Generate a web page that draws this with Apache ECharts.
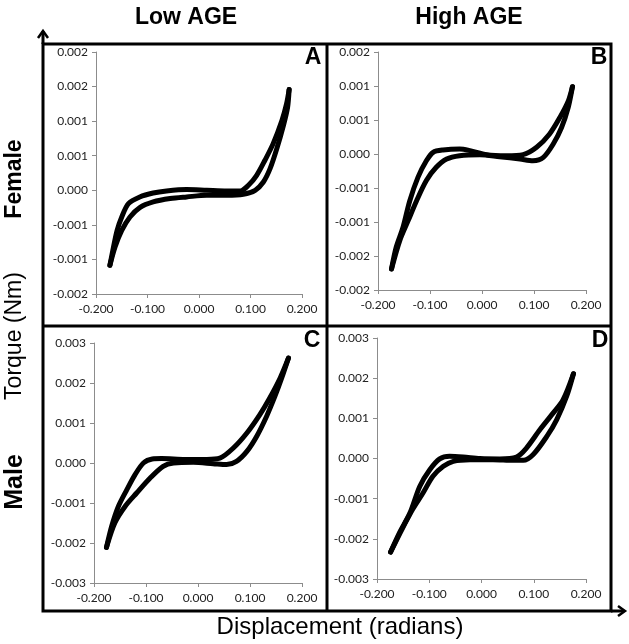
<!DOCTYPE html>
<html>
<head>
<meta charset="utf-8">
<script src="https://cdn.jsdelivr.net/npm/echarts@6/dist/echarts.min.js"></script>
<style>html,body{margin:0;padding:0;background:#fff;}#c{width:629px;height:644px;}</style>
</head>
<body>
<div id="c"></div>
<script>
// Column / row headings
const columnTitles = ["Low AGE", "High AGE"];
const rowTitles = ["Female", "Male"];
const panelLetters = ["A", "B", "C", "D"];
const yAxisTitle = "Torque (Nm)";
const xAxisTitle = "Displacement (radians)";
const xTicks = [-0.2, -0.1, 0, 0.1, 0.2];

// Panel A (Female, Low AGE): [displacement, torque]
const aUpper = [[-0.173,-0.001085],[-0.166,-0.00082],[-0.159,-0.00058],[-0.150,-0.000386],[-0.137,-0.000193],[-0.115,-0.000096],[-0.089,-0.000039],[-0.063,-0.00001],[-0.024,0.00001],[0.015,0],[0.054,-0.00001],[0.080,-0.00001],[0.096,0.000072],[0.112,0.000217],[0.128,0.000434],[0.144,0.000675],[0.161,0.00101],[0.170,0.00125],[0.175,0.001456]];
const aLower = [[-0.173,-0.001085],[-0.163,-0.00082],[-0.150,-0.00058],[-0.134,-0.000386],[-0.115,-0.00025],[-0.089,-0.000169],[-0.056,-0.00012],[-0.024,-0.000096],[0.015,-0.000072],[0.054,-0.000072],[0.086,-0.000058],[0.109,0],[0.125,0.00012],[0.138,0.000313],[0.151,0.0006],[0.164,0.00094],[0.172,0.0012],[0.175,0.001456]];
// Panel B (Female, High AGE)
const bUpper = [[-0.174,-0.00169],[-0.165,-0.00137],[-0.152,-0.00108],[-0.139,-0.00069],[-0.123,-0.00034],[-0.107,-0.0001],[-0.094,0.000025],[-0.075,0.00006],[-0.043,0.000074],[-0.023,0.00005],[0.009,-0.00001],[0.047,-0.000025],[0.079,-0.00001],[0.105,0.000098],[0.130,0.000294],[0.150,0.00054],[0.166,0.00078],[0.174,0.00099]];
const bLower = [[-0.174,-0.00169],[-0.158,-0.00127],[-0.142,-0.00098],[-0.126,-0.00069],[-0.107,-0.00039],[-0.088,-0.000196],[-0.068,-0.0000735],[-0.043,-0.0000245],[-0.004,-0.00001],[0.034,-0.00004],[0.073,-0.0000735],[0.098,-0.000098],[0.118,-0.000049],[0.137,0.000147],[0.153,0.00039],[0.166,0.00069],[0.174,0.00099]];
// Panel C (Male, Low AGE)
const cUpper = [[-0.176,-0.00211],[-0.166,-0.00158],[-0.153,-0.00108],[-0.137,-0.00067],[-0.121,-0.00029],[-0.105,0],[-0.088,0.0001],[-0.070,0.00011],[-0.047,0.0001],[-0.022,0.00009],[0.017,0.00009],[0.042,0.00012],[0.068,0.000375],[0.094,0.00075],[0.119,0.00121],[0.138,0.001625],[0.158,0.002125],[0.174,0.002625]];
const cLower = [[-0.176,-0.00211],[-0.160,-0.0015],[-0.140,-0.00108],[-0.118,-0.00075],[-0.092,-0.000375],[-0.067,-0.000083],[-0.047,0],[-0.009,0.0000167],[0.029,-0.0000167],[0.055,-0.00004],[0.074,0.00004],[0.094,0.00029],[0.113,0.00067],[0.132,0.00117],[0.148,0.00167],[0.161,0.002125],[0.174,0.002625]];
// Panel D (Male, High AGE)
const dUpper = [[-0.174,-0.00233],[-0.157,-0.00185],[-0.137,-0.00136],[-0.118,-0.00069],[-0.099,-0.00028],[-0.080,-0.00001],[-0.061,0.000054],[-0.035,0.000037],[-0.003,0],[0.035,-0.00001],[0.067,0.000037],[0.086,0.00026],[0.112,0.00072],[0.137,0.00113],[0.156,0.00146],[0.176,0.00211]];
const dLower = [[-0.174,-0.00233],[-0.151,-0.00173],[-0.132,-0.00127],[-0.112,-0.00086],[-0.093,-0.00044],[-0.073,-0.000195],[-0.054,-0.00007],[-0.022,-0.00003],[0.022,-0.00003],[0.061,-0.000045],[0.080,-0.000045],[0.099,0.0001],[0.125,0.00055],[0.144,0.00097],[0.163,0.00155],[0.176,0.00211]];

// y-axis ranges per panel [min, max, interval]
const yRangeA = [-0.0015, 0.002, 0.0005];
const yRangeB = [-0.002, 0.0015, 0.0005];
const yRangeC = [-0.003, 0.003, 0.001];
const yRangeD = [-0.003, 0.003, 0.001];

const panels = [
  {up: aUpper, lo: aLower, yr: yRangeA, grid: {left: 96, top: 52, width: 206, height: 242}},
  {up: bUpper, lo: bLower, yr: yRangeB, grid: {left: 378, top: 52, width: 208, height: 238}},
  {up: cUpper, lo: cLower, yr: yRangeC, grid: {left: 94, top: 343, width: 208, height: 240}},
  {up: dUpper, lo: dLower, yr: yRangeD, grid: {left: 377, top: 338, width: 209, height: 241}}
];

const tickFont = {fontFamily: 'Lato, "Open Sans", sans-serif', fontSize: 12, color: '#222'};
const axisGrey = '#8c8c8c';
const ff = '"Liberation Sans", Arial, sans-serif';

const option = {
  animation: false,
  backgroundColor: '#fff',
  grid: panels.map(p => Object.assign({containLabel: false}, p.grid)),
  xAxis: panels.map((p, i) => ({
    type: 'value', gridIndex: i, min: xTicks[0], max: xTicks[xTicks.length - 1], interval: 0.1,
    axisLine: {show: true, onZero: false, lineStyle: {color: axisGrey, width: 1}},
    axisTick: {show: true, length: 4, inside: false, lineStyle: {color: axisGrey}},
    splitLine: {show: false},
    axisLabel: Object.assign({margin: 9, formatter: v => v.toFixed(3)}, tickFont)
  })),
  yAxis: panels.map((p, i) => ({
    type: 'value', gridIndex: i, min: p.yr[0], max: p.yr[1], interval: p.yr[2],
    axisLine: {show: true, onZero: false, lineStyle: {color: axisGrey, width: 1}},
    axisTick: {show: true, length: 4, inside: false, lineStyle: {color: axisGrey}},
    splitLine: {show: false},
    axisLabel: Object.assign({margin: 8, formatter: v => (Math.abs(v) < 1e-12 ? 0 : v).toFixed(3)}, tickFont)
  })),
  series: panels.flatMap((p, i) => [p.up, p.lo].map(d => ({
    type: 'line', xAxisIndex: i, yAxisIndex: i, data: d, symbol: 'none', smooth: 0.3,
    lineStyle: {color: '#000', width: 5, cap: 'round', join: 'round'}
  }))),
  graphic: [
    // frame
    {type: 'rect', shape: {x: 43, y: 44, width: 568, height: 567}, style: {fill: 'none', stroke: '#000', lineWidth: 3}},
    {type: 'line', shape: {x1: 327, y1: 44, x2: 327, y2: 611}, style: {stroke: '#000', lineWidth: 3}},
    {type: 'line', shape: {x1: 43, y1: 326, x2: 611, y2: 326}, style: {stroke: '#000', lineWidth: 3}},
    // arrows
    {type: 'line', shape: {x1: 43, y1: 44, x2: 43, y2: 31}, style: {stroke: '#000', lineWidth: 3}},
    {type: 'polyline', shape: {points: [[38, 38], [43, 31], [48, 38]]}, style: {stroke: '#000', lineWidth: 2.5, fill: 'none'}},
    {type: 'line', shape: {x1: 611, y1: 611, x2: 624, y2: 611}, style: {stroke: '#000', lineWidth: 3}},
    {type: 'polyline', shape: {points: [[618, 606], [625, 611], [618, 616]]}, style: {stroke: '#000', lineWidth: 2.5, fill: 'none'}},
    // column titles
    {type: 'text', x: 186, y: 18, style: {text: columnTitles[0], font: 'bold 23px ' + ff, fill: '#000', align: 'center', verticalAlign: 'middle'}},
    {type: 'text', x: 469, y: 18, style: {text: columnTitles[1], font: 'bold 23px ' + ff, fill: '#000', align: 'center', verticalAlign: 'middle'}},
    // row titles
    {type: 'text', x: 15, y: 179, rotation: Math.PI / 2, style: {text: rowTitles[0], font: 'bold 23px ' + ff, fill: '#000', align: 'center', verticalAlign: 'middle'}},
    {type: 'text', x: 15, y: 482, rotation: Math.PI / 2, style: {text: rowTitles[1], font: 'bold 25px ' + ff, fill: '#000', align: 'center', verticalAlign: 'middle'}},
    {type: 'text', x: 15, y: 336, rotation: Math.PI / 2, style: {text: yAxisTitle, font: '23px ' + ff, fill: '#000', align: 'center', verticalAlign: 'middle'}},
    {type: 'text', x: 340, y: 627, style: {text: xAxisTitle, font: '24px ' + ff, fill: '#000', align: 'center', verticalAlign: 'middle'}},
    // panel letters
    {type: 'text', x: 313, y: 58, style: {text: panelLetters[0], font: 'bold 23px ' + ff, fill: '#000', align: 'center', verticalAlign: 'middle'}},
    {type: 'text', x: 599, y: 58, style: {text: panelLetters[1], font: 'bold 23px ' + ff, fill: '#000', align: 'center', verticalAlign: 'middle'}},
    {type: 'text', x: 312, y: 341, style: {text: panelLetters[2], font: 'bold 23px ' + ff, fill: '#000', align: 'center', verticalAlign: 'middle'}},
    {type: 'text', x: 600, y: 341, style: {text: panelLetters[3], font: 'bold 23px ' + ff, fill: '#000', align: 'center', verticalAlign: 'middle'}}
  ]
};

const chart = echarts.init(document.getElementById('c'), null, {renderer: 'canvas'});
chart.setOption(option);
</script>
</body>
</html>
